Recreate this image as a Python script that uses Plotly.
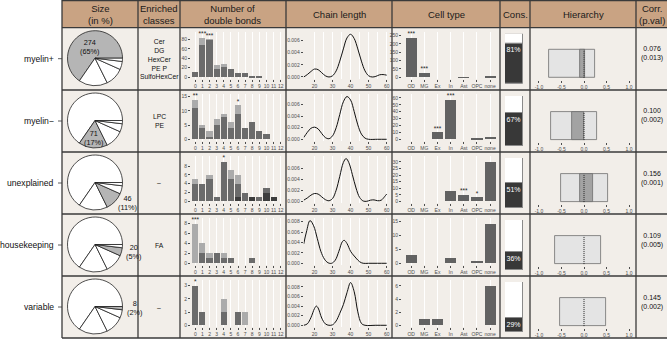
import math
import plotly.graph_objects as go

W, H = 667, 339
FONT = "Liberation Sans, Arial, sans-serif"

# ---------------- data ----------------
groups = ["myelin+", "myelin\u2212", "unexplained", "housekeeping", "variable"]
group_sizes = [274, 71, 46, 20, 8]
enriched = ["Cer<br>DG<br>HexCer<br>PE P<br>SulfoHexCer", "LPC<br>PE", "\u2013", "FA", "\u2013"]
corr_val = ["0.076", "0.100", "0.156", "0.109", "0.145"]
corr_p = ["(0.013)", "(0.002)", "(0.001)", "(0.005)", "(0.002)"]
headers = ["Size<br>(in %)", "Enriched<br>classes", "Number of<br>double bonds", "Chain length",
           "Cell type", "Cons.", "Hierarchy", "Corr.<br>(p.val)"]

# number of double bonds (0..12), three overlapping layers
db_x = list(range(13))
db_dark = [
    [0, 0, 0, 0, 0, 0, 0, 0, 0, 0, 0, 0, 0],
    [0, 0, 0, 0, 0, 0, 0, 0, 0, 0, 0, 0, 0],
    [0, 0, 0, 0, 0, 0, 1, 0, 1, 0, 2, 1, 0],
    [0, 0, 0, 0, 0, 0, 0, 0, 0, 0, 0, 0, 0],
    [0, 0, 0, 0, 0, 0, 0, 0, 0, 0, 0, 0, 0],
]
db_medium = [
    [12, 70, 79, 17, 22, 17, 10, 10, 2, 2, 0, 0, 0],
    [11, 4, 1, 5, 8, 4, 9, 4, 6, 3, 2, 0, 0],
    [4, 4, 5, 1, 9, 5, 3, 2, 0, 1, 1, 0, 0],
    [0, 2, 1, 2, 1, 1, 0, 0, 1, 0, 0, 0, 0],
    [3, 1, 0, 0, 1, 0, 1, 0, 0, 0, 0, 0, 0],
]
db_light = [
    [0, 15, 2, 9, 7, 0, 0, 0, 0, 0, 0, 0, 0],
    [3, 1, 2, 2, 1, 2, 3, 0, 0, 0, 0, 0, 0],
    [1, 0, 1, 0, 0, 2, 2, 0, 0, 0, 0, 0, 0],
    [8, 2, 1, 0, 1, 0, 0, 0, 0, 0, 0, 0, 0],
    [0, 0, 0, 0, 1, 0, 0, 1, 0, 0, 0, 0, 0],
]
db_stars = [
    ["", "***", "***", "", "", "", "", "", "", "", "", "", ""],
    ["**", "", "", "", "", "", "*", "", "", "", "", "", ""],
    ["", "", "", "", "*", "", "", "", "", "", "", "", ""],
    ["***", "", "", "", "", "", "", "", "", "", "", "", ""],
    ["*", "", "", "", "", "", "", "", "", "", "", "", ""],
]
db_yticks = [[0, 20, 40, 60, 80], [0, 5, 10, 15], [0, 2, 4, 6, 8], [0, 2, 4, 6, 8], [0, 1, 2, 3]]

# chain length density curves
cl_x = [
    [14, 16, 18, 20, 22, 24, 26, 28, 30, 32, 34, 36, 38, 40, 42, 44, 46, 48, 50, 52, 54, 56, 58, 60],
    [14, 16, 18, 20, 22, 24, 26, 28, 30, 32, 34, 36, 38, 40, 42, 44, 46, 48, 50, 55, 60],
    [14, 16, 18, 20, 22, 24, 26, 28, 30, 32, 34, 36, 37.5, 39, 41, 43, 45, 47, 49, 51, 53, 55, 57, 59, 60],
    [14, 15.5, 17.5, 19.5, 21.5, 23.5, 25.5, 27.5, 29.5, 31.5, 33.5, 35.5, 36.5, 38, 40, 41.5, 43, 45, 47, 50, 55, 60],
    [14, 16, 18, 20, 21, 22, 24, 26, 28, 30, 32, 34, 36, 38, 40, 42, 44, 46, 48, 54, 60],
]
cl_y = [
    [0.0000, 0.0004, 0.0009, 0.0013, 0.0012, 0.0007, 0.0002, 0.0000, 0.0002, 0.0010, 0.0026, 0.0046,
     0.0064, 0.0070, 0.0063, 0.0046, 0.0026, 0.0010, 0.0002, 0.0000, 0.0001, 0.00035, 0.0004, 0.0003],
    [0.0003, 0.0012, 0.0019, 0.0021, 0.0018, 0.0010, 0.0003, 0.0001, 0.0006, 0.0020, 0.0043, 0.0065,
     0.0074, 0.0068, 0.0048, 0.0025, 0.0009, 0.0002, 0.0000, 0.0000, 0.0000],
    [0.0002, 0.0006, 0.0011, 0.0014, 0.0013, 0.0008, 0.0003, 0.0001, 0.0005, 0.0020, 0.0045, 0.0070,
     0.0077, 0.0070, 0.0048, 0.0024, 0.0007, 0.00005, 0.0000, 0.0002, 0.00025, 0.0001, 0.0002, 0.0009, 0.0013],
    [0.0037, 0.0060, 0.0082, 0.0072, 0.0048, 0.0023, 0.0008, 0.0001, 0.0000, 0.0006, 0.0023, 0.0042,
     0.0044, 0.0038, 0.0023, 0.0016, 0.0010, 0.0003, 0.0000, 0.0000, 0.0000, 0.0000],
    [0.0000, 0.0003, 0.0016, 0.0035, 0.0040, 0.0036, 0.0015, 0.0003, 0.0000, 0.0001, 0.0009, 0.0025,
     0.0043, 0.0068, 0.0089, 0.0070, 0.0028, 0.0004, 0.0000, 0.0000, 0.0000],
]
cl_xticks = [20, 30, 40, 50, 60]
cl_yticks = [[0, 0.002, 0.004, 0.006]] * 3 + [[0, 0.002, 0.004, 0.006, 0.008]] * 2

# cell type enrichment
ct_labels = ["OD", "MG", "Ex", "In", "Ast", "OPC", "none"]
ct_counts = [
    [237, 26, 0, 0, 1, 0, 10],
    [0, 0, 10, 57, 0, 1, 3],
    [0, 0, 0, 8, 5, 3, 30],
    [3, 0, 0, 2, 0, 1, 14],
    [0, 1, 1, 0, 0, 0, 6],
]
ct_stars = [
    ["***", "***", "", "", "", "", ""],
    ["", "", "***", "***", "", "", ""],
    ["", "", "", "", "***", "*", ""],
    ["", "", "", "", "", "", ""],
    ["", "", "", "", "", "", ""],
]
ct_yticks = [[0, 50, 100, 150, 200, 250], [0, 10, 20, 30, 40, 50, 60], [0, 5, 10, 15, 20, 25, 30],
             [0, 5, 10, 15], [0, 2, 4, 6]]

# conservation (%)
cons_pct = [81, 67, 51, 36, 29]

# hierarchy intervals
hier_outer_lo = [-0.78, -0.73, -0.50, -0.65, -0.53]
hier_outer_hi = [0.24, 0.28, 0.54, 0.37, 0.48]
hier_inner_lo = [-0.08, -0.27, -0.08, 0.0, 0.0]
hier_inner_hi = [0.03, 0.01, 0.21, 0.0, 0.0]
hier_ref = 0.0
hier_ticks = [-1.0, -0.5, 0.0, 0.5, 1.0]

# ---------------- layout geometry (pixels) ----------------
row_tops = [27.7, 90, 152, 214, 276]
row_h = 62
col_edges = [62, 138, 180, 286, 392, 500, 530, 636, 667]
HEADER_BG = "#C9A383"
CELL_BG = "#F2EEE9"
LINE = "#3a3a3a"
TICKC = "#4d4d4d"
PIE_CX, PIE_R = 95, 27.5

C_DARK, C_MED, C_LIGHT = "#3d3d3d", "#6b6b6b", "#ababab"


def dx(a, b):
    return [a / W, b / W]


def dy(top, bottom):
    return [1 - bottom / H, 1 - top / H]


fig = go.Figure()
layout_axes = {}
shapes = []
annotations = []
tickfont = dict(family=FONT, size=5, color=TICKC)
k = 0


def new_axes(xdom, ydom, xkw, ykw):
    global k
    k += 1
    xs = "xaxis" if k == 1 else f"xaxis{k}"
    ys = "yaxis" if k == 1 else f"yaxis{k}"
    xa = dict(domain=xdom, anchor=f"y{k}" if k > 1 else "y", zeroline=False, showline=False,
              tickfont=tickfont, ticks="outside", ticklen=2, tickwidth=0.6, tickcolor=TICKC,
              tickangle=0, automargin=False)
    ya = dict(domain=ydom, anchor=f"x{k}" if k > 1 else "x", zeroline=False, showline=False,
              tickfont=tickfont, ticks="outside", ticklen=2, tickwidth=0.6, tickcolor=TICKC,
              tickangle=0, automargin=False)
    xa.update(xkw)
    ya.update(ykw)
    layout_axes[xs] = xa
    layout_axes[ys] = ya
    return ("x" if k == 1 else f"x{k}"), ("y" if k == 1 else f"y{k}")


total_size = sum(group_sizes)
cum = [sum(group_sizes[:i]) for i in range(5)]
# plotly (counterclockwise): first slice occupies [rotation, rotation + span] measured clockwise
# from 12 o'clock; we want it to start at 3 o'clock and run counterclockwise.
pie_rotation = 90 - 360 * group_sizes[0] / total_size

for r in range(5):
    T = row_tops[r]
    cy = T + row_h / 2 - 0.5

    # ---- pie ----
    cols = ["#b5b5b5" if i == r else "white" for i in range(5)]
    fig.add_trace(go.Pie(
        values=group_sizes, labels=[f"{g} [{groups[r]}]" for g in groups],
        sort=False, direction="counterclockwise", rotation=pie_rotation,
        marker=dict(colors=cols, line=dict(color="#222", width=0.8)),
        textinfo="none",
        domain=dict(x=dx(PIE_CX - PIE_R, PIE_CX + PIE_R), y=dy(cy - PIE_R, cy + PIE_R)),
        showlegend=False, hoverinfo="skip"))
    # label of highlighted slice, placed along the slice's mid angle
    theta = 2 * math.pi * (cum[r] + group_sizes[r] / 2) / total_size
    lab = f"{group_sizes[r]}<br>({round(100 * group_sizes[r] / total_size)}%)"
    if r < 2:
        rr = PIE_R * (0.45 if r == 0 else 0.63)
        xanc = "center"
    else:
        rr = PIE_R * 1.08
        xanc = "left"
    lx = PIE_CX + rr * math.cos(theta)
    ly = cy - rr * math.sin(theta)
    annotations.append(dict(x=lx / W, y=1 - ly / H, xref="paper", yref="paper", text=lab, showarrow=False,
                            xanchor=xanc, yanchor="middle", font=dict(family=FONT, size=7.3, color="#111")))

    # ---- double bonds ----
    tot = [a + b + c for a, b, c in zip(db_dark[r], db_medium[r], db_light[r])]
    m = max(tot)
    xa, ya = new_axes(dx(191, 285), dy(T + 4, T + 51),
                      dict(range=[-0.6, 12.6], tickvals=db_x, ticktext=[str(v) for v in db_x],
                           showgrid=True, gridcolor="white", gridwidth=1),
                      dict(range=[-0.04 * m, 1.14 * m], tickvals=db_yticks[r], showgrid=False))
    dm = [a + b for a, b in zip(db_dark[r], db_medium[r])]
    for vals, col in [(tot, C_LIGHT), (dm, C_MED), (db_dark[r], C_DARK)]:
        fig.add_trace(go.Bar(x=db_x, y=vals, width=0.86, marker=dict(color=col, line=dict(width=0)),
                             xaxis=xa, yaxis=ya, showlegend=False, hoverinfo="skip"))
    fig.add_trace(go.Scatter(x=db_x, y=tot, text=db_stars[r], mode="text", textposition="top center",
                             textfont=dict(family=FONT, size=6.5, color="#222"), cliponaxis=False,
                             xaxis=xa, yaxis=ya, showlegend=False, hoverinfo="skip"))

    # ---- chain length ----
    mc = max(cl_y[r])
    xa, ya = new_axes(dx(303.7, 389), dy(T + 4, T + 51),
                      dict(range=[14, 61.3], tickvals=cl_xticks, showgrid=True, gridcolor="white",
                           gridwidth=1, minor=dict(tickvals=[25, 35, 45, 55], showgrid=True,
                                                   gridcolor="white", gridwidth=0.5)),
                      dict(range=[-0.04 * mc, 1.06 * mc], tickvals=cl_yticks[r], tickformat=".3f",
                           showgrid=False))
    fig.add_trace(go.Scatter(x=cl_x[r], y=cl_y[r], mode="lines",
                             line=dict(color="#111", width=1, shape="spline", smoothing=1.0),
                             xaxis=xa, yaxis=ya, showlegend=False, hoverinfo="skip"))

    # ---- cell type ----
    mt = max(ct_counts[r])
    xa, ya = new_axes(dx(402, 498), dy(T + 4, T + 51),
                      dict(range=[-0.7, 6.6], tickvals=list(range(7)), ticktext=ct_labels,
                           showgrid=True, gridcolor="white", gridwidth=1),
                      dict(range=[-0.04 * mt, 1.15 * mt], tickvals=ct_yticks[r], showgrid=False))
    fig.add_trace(go.Bar(x=list(range(7)), y=ct_counts[r], width=0.85,
                         marker=dict(color="#626262", line=dict(width=0)),
                         xaxis=xa, yaxis=ya, showlegend=False, hoverinfo="skip"))
    fig.add_trace(go.Scatter(x=list(range(7)), y=ct_counts[r], text=ct_stars[r], mode="text",
                             textposition="top center", textfont=dict(family=FONT, size=6.5, color="#222"),
                             cliponaxis=False, xaxis=xa, yaxis=ya, showlegend=False, hoverinfo="skip"))

    # ---- conservation ----
    xa, ya = new_axes(dx(505, 523), dy(T + 6, T + 56),
                      dict(range=[-0.5, 0.5], visible=False, showgrid=False),
                      dict(range=[0, 100], visible=False, showgrid=False))
    fig.add_trace(go.Bar(x=[0], y=[100], width=1, marker=dict(color="white", line=dict(color="#8a8a8a", width=1)),
                         xaxis=xa, yaxis=ya, showlegend=False, hoverinfo="skip"))
    fig.add_trace(go.Bar(x=[0], y=[cons_pct[r]], width=1,
                         marker=dict(color="#383838", line=dict(color="#8a8a8a", width=1)),
                         text=[f"{cons_pct[r]}%"], textposition="inside", insidetextanchor="end",
                         constraintext="none", textangle=0,
                         textfont=dict(family=FONT, size=7, color="white"),
                         xaxis=xa, yaxis=ya, showlegend=False, hoverinfo="skip"))

    # ---- hierarchy ----
    xa, ya = new_axes(dx(533, 635), dy(T + 20, T + 52),
                      dict(range=[-1.133, 1.133], tickvals=hier_ticks,
                           ticktext=[f"{v:.1f}" for v in hier_ticks], showgrid=False),
                      dict(range=[-0.5, 0.5], visible=False, showgrid=False))
    fig.add_trace(go.Bar(orientation="h", y=[0], base=[hier_outer_lo[r]],
                         x=[hier_outer_hi[r] - hier_outer_lo[r]], width=0.875,
                         marker=dict(color="#e4e4e4", line=dict(color="#6e6e6e", width=0.8)),
                         xaxis=xa, yaxis=ya, showlegend=False, hoverinfo="skip"))
    if hier_inner_hi[r] > hier_inner_lo[r]:
        fig.add_trace(go.Bar(orientation="h", y=[0], base=[hier_inner_lo[r]],
                             x=[hier_inner_hi[r] - hier_inner_lo[r]], width=0.875,
                             marker=dict(color="#a3a3a3", line=dict(color="#6e6e6e", width=0.8)),
                             xaxis=xa, yaxis=ya, showlegend=False, hoverinfo="skip"))
    shapes.append(dict(type="line", xref=xa, yref=ya, x0=hier_ref, x1=hier_ref, y0=-0.44, y1=0.44,
                       line=dict(color="#222", width=1, dash="1px,1px"), layer="above"))

    # ---- text cells ----
    yc = 1 - (T + row_h / 2) / H
    annotations.append(dict(x=56 / W, y=yc, xref="paper", yref="paper", text=groups[r], showarrow=False,
                            xanchor="right", yanchor="middle", font=dict(family=FONT, size=8.6, color="#111")))
    shapes.append(dict(type="line", xref="paper", yref="paper", x0=58 / W, x1=62 / W, y0=yc, y1=yc,
                       line=dict(color="#333", width=0.8)))
    annotations.append(dict(x=159 / W, y=yc, xref="paper", yref="paper", text=enriched[r], showarrow=False,
                            xanchor="center", yanchor="middle", font=dict(family=FONT, size=6.8, color="#111")))
    annotations.append(dict(x=651.5 / W, y=1 - (T + 26) / H, xref="paper", yref="paper",
                            text=f"{corr_val[r]}<br>{corr_p[r]}", showarrow=False,
                            xanchor="center", yanchor="middle", font=dict(family=FONT, size=7, color="#111")))

# ---------------- table structure ----------------
body_bottom = row_tops[-1] + row_h
shapes.insert(0, dict(type="rect", xref="paper", yref="paper", x0=62 / W, x1=1, y0=1 - body_bottom / H,
                      y1=1 - row_tops[0] / H, fillcolor=CELL_BG, line=dict(width=0), layer="below"))
shapes.insert(0, dict(type="rect", xref="paper", yref="paper", x0=62 / W, x1=1, y0=1 - row_tops[0] / H,
                      y1=1, fillcolor=HEADER_BG, line=dict(width=0), layer="below"))
for yv in [0.6] + row_tops + [body_bottom]:
    shapes.append(dict(type="line", xref="paper", yref="paper", x0=62 / W, x1=1, y0=1 - yv / H, y1=1 - yv / H,
                       line=dict(color=LINE, width=1.3)))
for xv in col_edges[:-1]:
    shapes.append(dict(type="line", xref="paper", yref="paper", x0=xv / W, x1=xv / W, y0=1 - body_bottom / H,
                       y1=1, line=dict(color=LINE, width=1.3)))

for i, htxt in enumerate(headers):
    xc = (col_edges[i] + col_edges[i + 1]) / 2
    annotations.append(dict(x=xc / W, y=1 - 14 / H, xref="paper", yref="paper", text=htxt, showarrow=False,
                            xanchor="center", yanchor="middle", font=dict(family=FONT, size=9.5, color="#1a1a1a")))

fig.update_layout(
    width=W, height=H, margin=dict(l=0, r=0, t=0, b=0),
    paper_bgcolor="white", plot_bgcolor="rgba(0,0,0,0)",
    barmode="overlay", bargap=0, showlegend=False,
    shapes=shapes, annotations=annotations, **layout_axes)

fig.write_html("out.html", config={"displayModeBar": False},
               post_script="document.body.style.margin='0px';document.body.style.padding='0px';")
